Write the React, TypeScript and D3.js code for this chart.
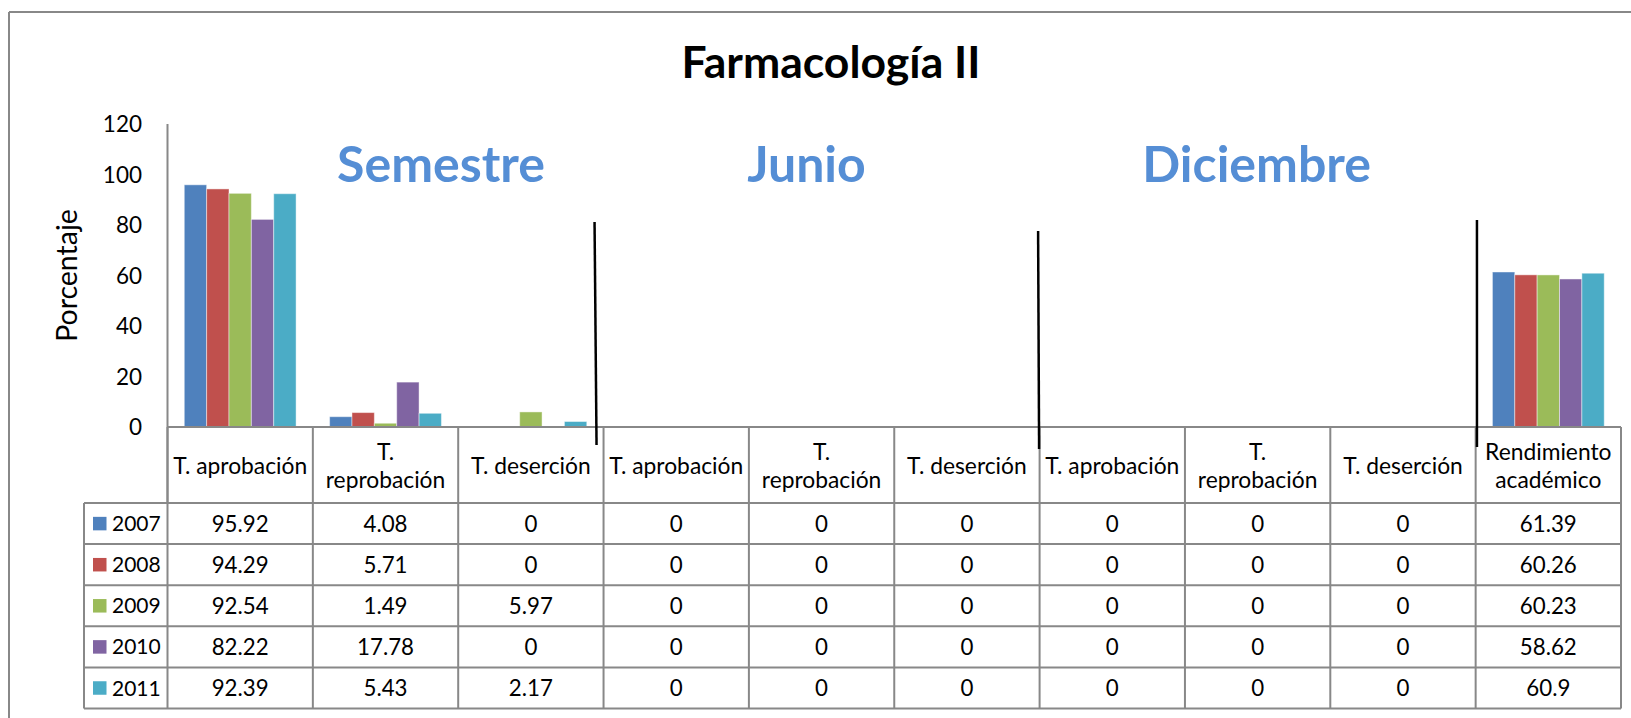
import * as d3 from "d3";

// data
const categories = [
  ["T. aprobación"],
  ["T.", "reprobación"],
  ["T. deserción"],
  ["T. aprobación"],
  ["T.", "reprobación"],
  ["T. deserción"],
  ["T. aprobación"],
  ["T.", "reprobación"],
  ["T. deserción"],
  ["Rendimiento", "académico"],
];
const years = ["2007", "2008", "2009", "2010", "2011"];
const values2007 = [95.92, 4.08, 0, 0, 0, 0, 0, 0, 0, 61.39];
const values2008 = [94.29, 5.71, 0, 0, 0, 0, 0, 0, 0, 60.26];
const values2009 = [92.54, 1.49, 5.97, 0, 0, 0, 0, 0, 0, 60.23];
const values2010 = [82.22, 17.78, 0, 0, 0, 0, 0, 0, 0, 58.62];
const values2011 = [92.39, 5.43, 2.17, 0, 0, 0, 0, 0, 0, 60.9];
const yTicks = [0, 20, 40, 60, 80, 100, 120];
const sections = ["Semestre", "Junio", "Diciembre"];
const title = "Farmacología II";
const yLabel = "Porcentaje";

const series = [values2007, values2008, values2009, values2010, values2011];
const colors = ["#4F81BD", "#C0504D", "#9BBB59", "#8064A2", "#4BACC6"];

const W = 1631;
const H = 718;
const plot = { left: 167.5, right: 1621, top: 124, bottom: 427 };
const headerH = 76;
const rowH = 41.1;
const legendLeft = 84;
const gridColor = "#888888";
const font = "Lato, 'Open Sans', sans-serif";

const App = () => {
  const xScale = d3
    .scaleBand<number>()
    .domain(d3.range(categories.length))
    .range([plot.left, plot.right])
    .paddingInner(0)
    .paddingOuter(0);
  const xSeries = d3
    .scaleBand<number>()
    .domain(d3.range(years.length))
    .range([0, xScale.bandwidth()])
    .paddingInner(0)
    .paddingOuter(0.75);
  const yScale = d3.scaleLinear().domain([0, 120]).range([plot.bottom, plot.top]);

  const tableTop = plot.bottom + headerH;
  const tableBottom = tableTop + rowH * years.length;
  const colEdges = d3.range(categories.length + 1).map((i) =>
    i < categories.length ? xScale(i)! : plot.right
  );

  // hand drawn dividers between the Semestre / Junio / Diciembre blocks
  const dividers = [
    { at: 3, dx1: -9, dx2: -7, y1: 222, y2: 445 },
    { at: 6, dx1: -1.5, dx2: -0.5, y1: 231, y2: 449 },
    { at: 9, dx1: 1.3, dx2: 1.3, y1: 220, y2: 447 },
  ];
  const sectionPos = [
    { x: 441, y: 182 },
    { x: 806.5, y: 182 },
    { x: 1256.6, y: 182 },
  ];

  return (
    <svg
      width={W}
      height={H}
      style={{ position: "absolute", left: 0, top: 0, background: "#fff" }}
      fontFamily={font}
    >
      {/* outer frame (only top/left visible) */}
      <line x1={9} x2={W} y1={12} y2={12} stroke={gridColor} strokeWidth={2} />
      <line x1={9} x2={9} y1={12} y2={H} stroke={gridColor} strokeWidth={2} />

      <text x={831} y={78} textAnchor="middle" fontSize={44.5} fontWeight="bold" fill="#000">
        {title}
      </text>

      {/* y axis */}
      <line x1={plot.left} x2={plot.left} y1={plot.top} y2={tableTop} stroke={gridColor} strokeWidth={2} />
      {yTicks.map((t) => (
        <text key={t} x={142} y={yScale(t)} dy="0.36em" textAnchor="end" fontSize={22.5} fill="#000">
          {t}
        </text>
      ))}
      <text
        transform={`translate(67,${(plot.top + plot.bottom) / 2}) rotate(-90)`}
        textAnchor="middle"
        dy="0.36em"
        fontSize={28.5}
        fill="#000"
      >
        {yLabel}
      </text>

      {/* bars */}
      {categories.map((_, ci) =>
        series.map((vals, si) => (
          <rect
            key={`${ci}-${si}`}
            x={xScale(ci)! + xSeries(si)!}
            y={yScale(vals[ci])}
            width={xSeries.bandwidth()}
            height={yScale(0) - yScale(vals[ci])}
            fill={colors[si]}
            stroke="rgba(255,255,255,0.45)"
            strokeWidth={vals[ci] > 0 ? 1 : 0}
          />
        ))
      )}

      {/* section labels */}
      {sections.map((s, i) => (
        <text
          key={s}
          x={sectionPos[i].x}
          y={sectionPos[i].y}
          textAnchor="middle"
          fontSize={50}
          fontWeight="bold"
          fill="#558ED5"
        >
          {s}
        </text>
      ))}

      {/* data table */}
      <g stroke={gridColor} strokeWidth={2}>
        <line x1={plot.left} x2={plot.right} y1={plot.bottom} y2={plot.bottom} />
        {d3.range(years.length + 1).map((r) => (
          <line
            key={r}
            x1={legendLeft}
            x2={plot.right}
            y1={tableTop + r * rowH}
            y2={tableTop + r * rowH}
          />
        ))}
        {colEdges.map((x, i) => (
          <line key={i} x1={x} x2={x} y1={plot.bottom} y2={tableBottom} />
        ))}
        <line x1={legendLeft} x2={legendLeft} y1={tableTop} y2={tableBottom} />
      </g>

      {categories.map((lines, ci) => {
        const cx = xScale(ci)! + xScale.bandwidth() / 2;
        const cy = plot.bottom + headerH / 2 + 1;
        return (
          <text key={ci} x={cx} textAnchor="middle" fontSize={22.8} fill="#000">
            {lines.map((l, li) => (
              <tspan
                key={li}
                x={cx}
                y={cy + (li - (lines.length - 1) / 2) * 28.3}
                dy="0.36em"
              >
                {l}
              </tspan>
            ))}
          </text>
        );
      })}

      {years.map((yr, si) => {
        const cy = tableTop + si * rowH + rowH / 2;
        return (
          <g key={yr}>
            <rect x={93} y={cy - 6.7} width={13.5} height={13.5} fill={colors[si]} />
            <text x={112} y={cy} dy="0.36em" fontSize={21} fill="#000">
              {yr}
            </text>
            {series[si].map((v, ci) => (
              <text
                key={ci}
                x={xScale(ci)! + xScale.bandwidth() / 2}
                y={cy}
                dy="0.36em"
                textAnchor="middle"
                fontSize={22.3}
                fill="#000"
              >
                {String(v)}
              </text>
            ))}
          </g>
        );
      })}

      {/* block dividers */}
      {dividers.map((d, i) => (
        <line
          key={i}
          x1={xScale(d.at)! + d.dx1}
          x2={xScale(d.at)! + d.dx2}
          y1={d.y1}
          y2={d.y2}
          stroke="#000"
          strokeWidth={2.5}
        />
      ))}
    </svg>
  );
};

export default App;
